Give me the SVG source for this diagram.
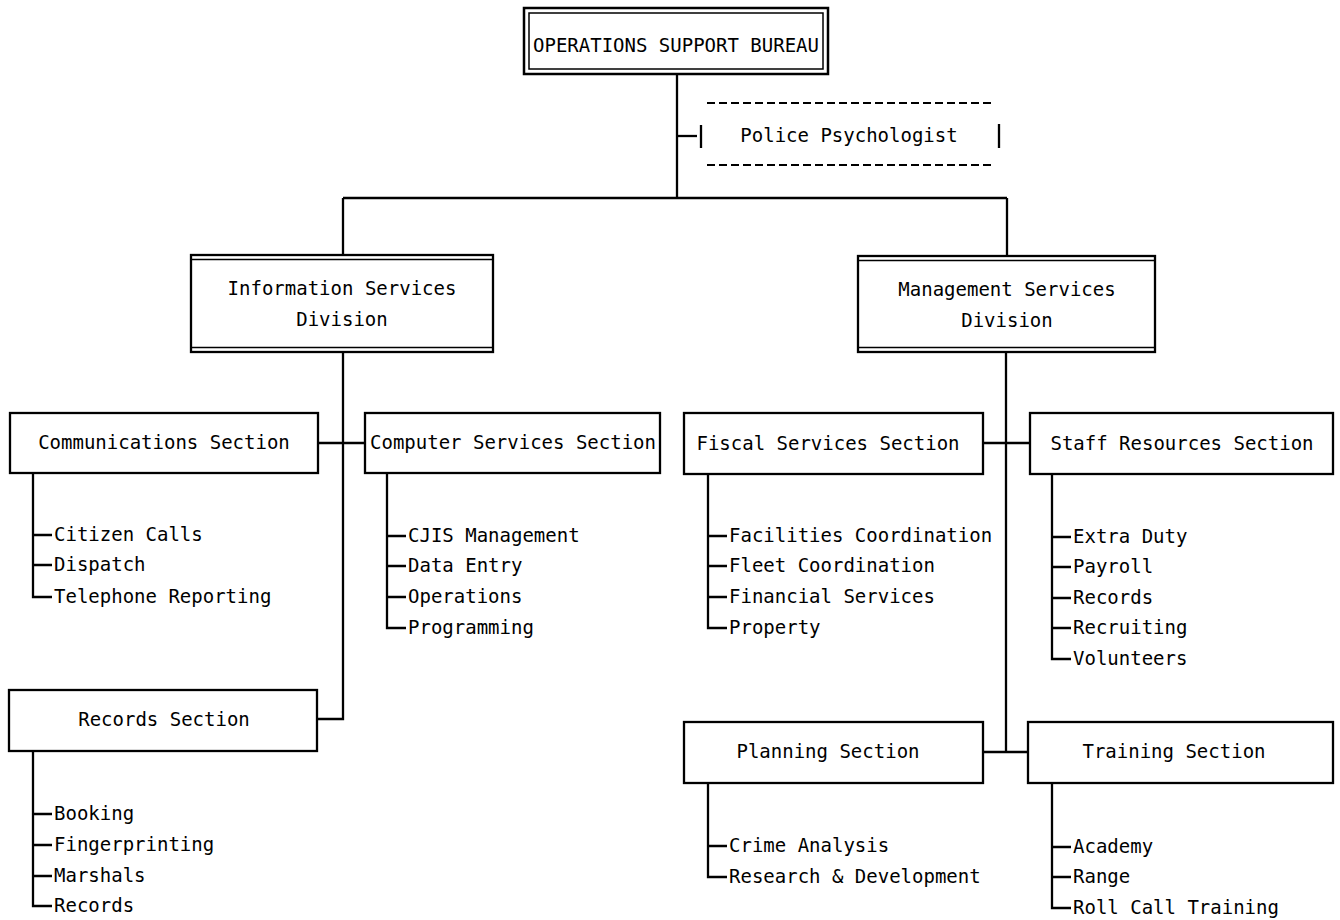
<svg xmlns="http://www.w3.org/2000/svg" width="1340" height="920" viewBox="0 0 1340 920">
<style>
text{font-family:"DejaVu Sans Mono","Liberation Mono",monospace;font-size:19px;fill:#000}
.c{text-anchor:middle}
.box{fill:#fff;stroke:#000;stroke-width:2.3}
.ln{fill:none;stroke:#000;stroke-width:2.3}
.thin{fill:none;stroke:#000;stroke-width:1.5}
.dash{fill:none;stroke:#000;stroke-width:2;stroke-dasharray:8 4}
</style>
<rect width="1340" height="920" fill="#fff"/>
<g id="connectors">
<path class="ln" d="M677,74V198M343,198H1007M343,198V255M1007,198V256"/>
<path class="ln" d="M343,352V719H317M318,443H365"/>
<path class="ln" d="M1006,352V752M983,443H1030M983,752H1028"/>
<path class="ln" d="M677,136H697"/>
<path class="ln" d="M33,473V597H52M33,535H52M33,565H52"/>
<path class="ln" d="M387,473V628H406M387,536H406M387,566H406M387,597H406"/>
<path class="ln" d="M33,751V906H52M33,814H52M33,845H52M33,876H52"/>
<path class="ln" d="M708,474V628H727M708,536H727M708,566H727M708,597H727"/>
<path class="ln" d="M1052,474V659H1071M1052,537H1071M1052,567H1071M1052,598H1071M1052,628H1071"/>
<path class="ln" d="M708,783V877H727M708,846H727"/>
<path class="ln" d="M1052,783V908H1071M1052,847H1071M1052,877H1071"/>
</g>
<g id="bureau">
<rect x="524" y="8" width="304" height="66" fill="#fff" stroke="#000" stroke-width="2.5"/>
<rect x="529" y="13" width="294" height="56" class="thin"/>
<text class="c" x="676" y="52">OPERATIONS SUPPORT BUREAU</text>
</g>
<g id="psychologist">
<path class="dash" d="M707,103H991M707,165H991"/>
<path class="ln" d="M701,125V148M999,124V148"/>
<text class="c" x="849" y="142">Police Psychologist</text>
</g>
<g id="info-division">
<rect x="191" y="255" width="302" height="97" class="box"/>
<path class="thin" d="M191,259.5H493M191,347.5H493"/>
<text class="c" x="342" y="295">Information Services</text>
<text class="c" x="342" y="326">Division</text>
</g>
<g id="mgmt-division">
<rect x="858" y="256" width="297" height="96" class="box"/>
<path class="thin" d="M858,260.5H1155M858,347.5H1155"/>
<text class="c" x="1007" y="296">Management Services</text>
<text class="c" x="1007" y="327">Division</text>
</g>
<g id="communications">
<rect x="10" y="413" width="308" height="60" class="box"/>
<text class="c" x="164" y="449">Communications Section</text>
<text x="54" y="541">Citizen Calls</text>
<text x="54" y="571">Dispatch</text>
<text x="54" y="603">Telephone Reporting</text>
</g>
<g id="computer">
<rect x="365" y="413" width="295" height="60" class="box"/>
<text class="c" x="513" y="449">Computer Services Section</text>
<text x="408" y="542">CJIS Management</text>
<text x="408" y="572">Data Entry</text>
<text x="408" y="603">Operations</text>
<text x="408" y="634">Programming</text>
</g>
<g id="records">
<rect x="9" y="690" width="308" height="61" class="box"/>
<text class="c" x="164" y="726">Records Section</text>
<text x="54" y="820">Booking</text>
<text x="54" y="851">Fingerprinting</text>
<text x="54" y="882">Marshals</text>
<text x="54" y="912">Records</text>
</g>
<g id="fiscal">
<rect x="684" y="413" width="299" height="61" class="box"/>
<text class="c" x="828" y="450">Fiscal Services Section</text>
<text x="729" y="542">Facilities Coordination</text>
<text x="729" y="572">Fleet Coordination</text>
<text x="729" y="603">Financial Services</text>
<text x="729" y="634">Property</text>
</g>
<g id="staff">
<rect x="1030" y="413" width="303" height="61" class="box"/>
<text class="c" x="1182" y="450">Staff Resources Section</text>
<text x="1073" y="543">Extra Duty</text>
<text x="1073" y="573">Payroll</text>
<text x="1073" y="604">Records</text>
<text x="1073" y="634">Recruiting</text>
<text x="1073" y="665">Volunteers</text>
</g>
<g id="planning">
<rect x="684" y="722" width="299" height="61" class="box"/>
<text class="c" x="828" y="758">Planning Section</text>
<text x="729" y="852">Crime Analysis</text>
<text x="729" y="883">Research &amp; Development</text>
</g>
<g id="training">
<rect x="1028" y="722" width="305" height="61" class="box"/>
<text class="c" x="1174" y="758">Training Section</text>
<text x="1073" y="853">Academy</text>
<text x="1073" y="883">Range</text>
<text x="1073" y="914">Roll Call Training</text>
</g>
</svg>
